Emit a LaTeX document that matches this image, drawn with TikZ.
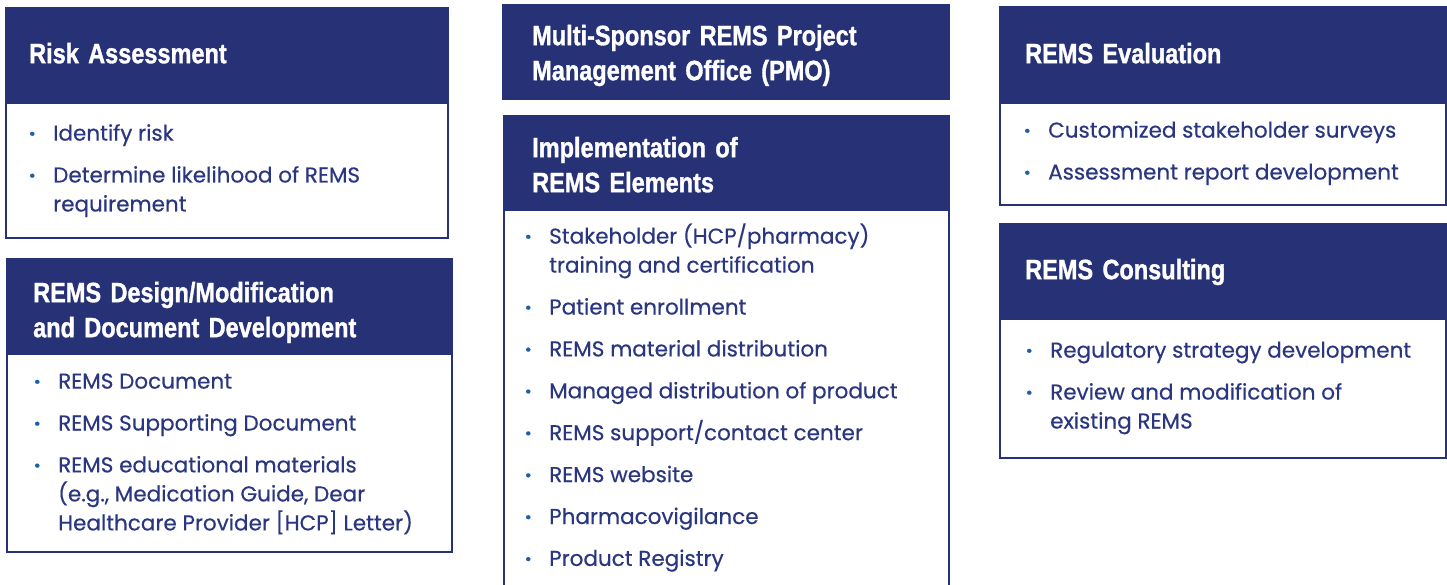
\documentclass[tikz,border=0pt]{standalone}
\usepackage{fontspec}
\setmainfont[FakeBold=0.4]{Poppins}
\newfontfamily\hdfont[FakeStretch=0.84,WordSpace=0.85,BoldFeatures={FakeBold=1.2}]{Liberation Sans}
\usepackage{tikz}
\usetikzlibrary{positioning}

\definecolor{navy}{RGB}{39,49,118}
\definecolor{navytext}{RGB}{42,54,128}
\definecolor{dotblue}{RGB}{26,95,168}

\newcommand{\rmsitem}[2]{\makebox[0pt]{\textcolor{dotblue}{\bfseries ·}}\hspace{21pt}\parbox[t]{#1}{\raggedright\strut #2\strut}}

\tikzset{
    hdr/.style={fill=navy, inner sep=0pt, anchor=north west},
    bdy/.style={draw=navy, line width=2pt, fill=white, inner sep=0pt},
    opnbdy/.style={fill=white, inner sep=0pt},
    boxline/.style={draw=navy, line width=2pt},
    ttl/.style={inner sep=0pt, text=white, text width=420pt, align=left,
        font=\hdfont\bfseries\fontsize{28}{35}\selectfont},
    itm/.style={inner sep=0pt, text=navytext, font=\fontsize{21.5}{29}\selectfont}
}

\begin{document}
\begin{tikzpicture}[x=1pt,y=-1pt]
        \useasboundingbox (0,0) rectangle (1447,585);

        % left column
        \node[hdr,minimum width=444pt,minimum height=95pt](ra) at (5,7){};
        \node[bdy,minimum width=442pt,minimum height=135pt](rab)[below = 0pt of ra]{};
        \node[ttl](rat)[below right = 31.5pt and 24pt of ra.north west]{\strut Risk Assessment};
        \node[itm](ra1)[below right = 17.7pt and 27pt of ra.south west]{\rmsitem{420pt}{Identify risk}};
        \node[itm](ra2)[below = 12.5pt of ra1]{\rmsitem{420pt}{Determine likelihood of REMS\\requirement}};

        \node[hdr,minimum width=447pt,minimum height=95pt](rd) at (6,258){};
        \node[bdy,minimum width=445pt,minimum height=198pt](rdb)[below = 0pt of rd]{};
        \node[ttl](rdt)[below right = 19.5pt and 27pt of rd.north west]{\strut REMS Design/Modification\\and Document Development};
        \node[itm](rd1)[below right = 14.7pt and 31pt of rd.south west]{\rmsitem{420pt}{REMS Document}};
        \node[itm](rd2)[below = 12.5pt of rd1]{\rmsitem{420pt}{REMS Supporting Document}};
        \node[itm](rd3)[below = 12.5pt of rd2]{\rmsitem{420pt}{REMS educational materials\\(e.g., Medication Guide, Dear\\Healthcare Provider [HCP] Letter)}};

        % middle column
        \node[hdr,minimum width=448pt,minimum height=96pt](pm) at (502,4){};
        \node[ttl](pmt)[below right = 16.5pt and 30pt of pm.north west]{\strut Multi-Sponsor REMS Project\\Management Office (PMO)};

        \node[hdr,minimum width=447pt,minimum height=96pt](im) at (503,115){};
        \node[opnbdy,minimum width=445pt,minimum height=374pt](imb)[below = 0pt of im]{};
        \draw[boxline] (imb.north west) -- (imb.south west) (imb.north east) -- (imb.south east);
        \node[ttl](imt)[below right = 17.5pt and 29pt of im.north west]{\strut Implementation of\\REMS Elements};
        \node[itm](im1)[below right = 11.7pt and 25pt of im.south west]{\rmsitem{420pt}{Stakeholder (HCP/pharmacy)\\training and certification}};
        \node[itm](im2)[below = 12.5pt of im1]{\rmsitem{420pt}{Patient enrollment}};
        \node[itm](im3)[below = 12.5pt of im2]{\rmsitem{420pt}{REMS material distribution}};
        \node[itm](im4)[below = 12.5pt of im3]{\rmsitem{420pt}{Managed distribution of product}};
        \node[itm](im5)[below = 12.5pt of im4]{\rmsitem{420pt}{REMS support/contact center}};
        \node[itm](im6)[below = 12.5pt of im5]{\rmsitem{420pt}{REMS website}};
        \node[itm](im7)[below = 12.5pt of im6]{\rmsitem{420pt}{Pharmacovigilance}};
        \node[itm](im8)[below = 12.5pt of im7]{\rmsitem{420pt}{Product Registry}};

        % right column
        \node[hdr,minimum width=448pt,minimum height=96pt](ev) at (999,6){};
        \node[bdy,minimum width=446pt,minimum height=102pt](evb)[below = 0pt of ev]{};
        \node[ttl](evt)[below right = 32.5pt and 26pt of ev.north west]{\strut REMS Evaluation};
        \node[itm](ev1)[below right = 14.7pt and 28pt of ev.south west]{\rmsitem{420pt}{Customized stakeholder surveys}};
        \node[itm](ev2)[below = 12.5pt of ev1]{\rmsitem{420pt}{Assessment report development}};

        \node[hdr,minimum width=448pt,minimum height=95pt](co) at (999,223){};
        \node[bdy,minimum width=446pt,minimum height=139pt](cob)[below = 0pt of co]{};
        \node[ttl](cot)[below right = 31.5pt and 26pt of co.north west]{\strut REMS Consulting};
        \node[itm](co1)[below right = 18.7pt and 30pt of co.south west]{\rmsitem{420pt}{Regulatory strategy development}};
        \node[itm](co2)[below = 12.5pt of co1]{\rmsitem{420pt}{Review and modification of\\existing REMS}};
    \end{tikzpicture}
\end{document}
